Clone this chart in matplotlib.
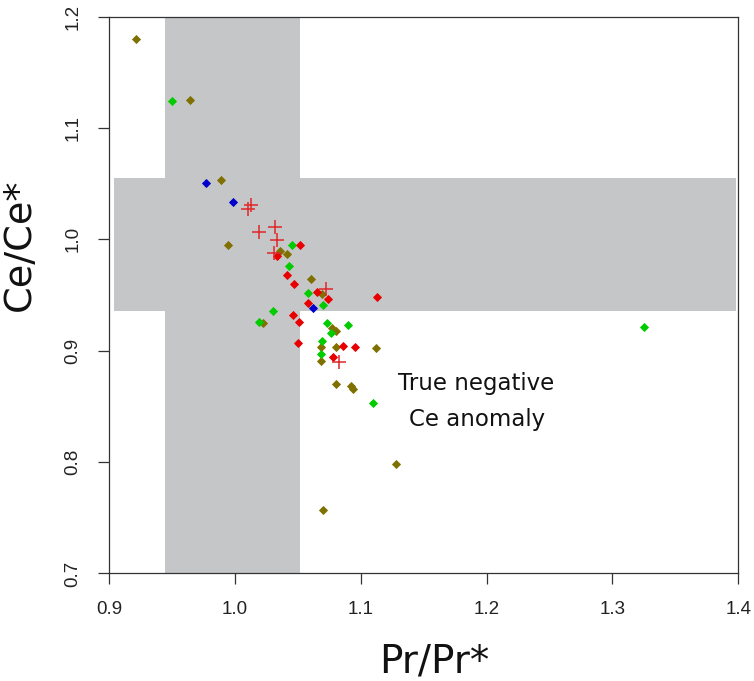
import matplotlib.pyplot as plt
from matplotlib.patches import Rectangle

# Data (Pr/Pr*, Ce/Ce*)
olive_x = [0.921, 0.964, 0.989, 0.994, 1.036, 1.041, 1.060, 1.069, 1.022, 1.077,
           1.080, 1.068, 1.080, 1.112, 1.068, 1.080, 1.092, 1.094, 1.128, 1.070]
olive_y = [1.180, 1.125, 1.053, 0.995, 0.990, 0.987, 0.964, 0.951, 0.925, 0.920,
           0.918, 0.903, 0.903, 0.902, 0.891, 0.870, 0.868, 0.866, 0.798, 0.757]

green_x = [0.950, 1.045, 1.043, 1.058, 1.070, 1.030, 1.019, 1.073, 1.090, 1.076,
           1.069, 1.068, 1.110, 1.325]
green_y = [1.124, 0.995, 0.976, 0.952, 0.941, 0.936, 0.926, 0.925, 0.923, 0.916,
           0.909, 0.897, 0.853, 0.921]

red_x = [1.052, 1.033, 1.041, 1.047, 1.065, 1.074, 1.058, 1.113, 1.046, 1.051,
         1.050, 1.086, 1.095, 1.078]
red_y = [0.995, 0.985, 0.968, 0.960, 0.953, 0.946, 0.943, 0.948, 0.932, 0.926,
         0.907, 0.904, 0.903, 0.894]

blue_x = [0.977, 0.998, 1.062]
blue_y = [1.051, 1.034, 0.938]

plus_x = [1.013, 1.010, 1.019, 1.032, 1.033, 1.031, 1.072, 1.083]
plus_y = [1.031, 1.027, 1.007, 1.011, 0.999, 0.988, 0.955, 0.890]

# shaded "no anomaly" bands
band_pr = (0.9445, 1.0515)
band_ce = (0.9355, 1.0555)

plt.rcParams['font.family'] = ['Liberation Sans', 'DejaVu Sans']

fig = plt.figure(figsize=(7.54, 6.81), dpi=100)
ax = fig.add_axes([0.145, 0.158, 0.834, 0.8175])
ax.set_xlim(0.9, 1.4)
ax.set_ylim(0.7, 1.2)

gray = "#c5c6c8"
ax.add_patch(Rectangle((band_pr[0], 0.7), band_pr[1] - band_pr[0], 0.5,
                       facecolor=gray, edgecolor="none", zorder=1))
ax.add_patch(Rectangle((0.904, band_ce[0]), 1.3985 - 0.904, band_ce[1] - band_ce[0],
                       facecolor=gray, edgecolor="none", zorder=1))

dkw = dict(linestyle="none", marker="D", markersize=4.4, markeredgewidth=0.6, zorder=3)
ax.plot(olive_x, olive_y, color="#7f7000", **dkw)
ax.plot(green_x, green_y, color="#00cc00", **dkw)
ax.plot(red_x, red_y, color="#e80000", **dkw)
ax.plot(blue_x, blue_y, color="#0000cc", **dkw)
ax.plot(plus_x, plus_y, linestyle="none", marker="+", markersize=10,
        markeredgewidth=1.1, color="#e02828", zorder=4)

ax.text(1.1917, 0.8646, "True negative", fontsize=16.5, family="DejaVu Sans",
        ha="center", va="baseline", color="#111111", zorder=5)
ax.text(1.1925, 0.8326, "Ce anomaly", fontsize=16.5, family="DejaVu Sans",
        ha="center", va="baseline", color="#111111", zorder=5)

for s in ax.spines.values():
    s.set_color("#333333")
    s.set_linewidth(0.9)

ax.set_xticks([0.9, 1.0, 1.1, 1.2, 1.3, 1.4])
ax.set_xticklabels(["0.9", "1.0", "1.1", "1.2", "1.3", "1.4"])
ax.set_yticks([0.7, 0.8, 0.9, 1.0, 1.1, 1.2])
ax.set_yticklabels(["0.7", "0.8", "0.9", "1.0", "1.1", "1.2"], rotation=90, va="center")
ax.tick_params(axis="both", direction="out", length=8, width=0.9, color="#333333",
               labelsize=13.5, labelcolor="#222222")
ax.tick_params(axis="x", pad=12)
ax.tick_params(axis="y", pad=12)

fig.text(434 / 754, 1 - 672 / 681, "Pr/Pr*", fontsize=28, family="DejaVu Sans",
         ha="center", va="baseline", color="#111111")
fig.text(20 / 754, 1 - 245 / 681, "Ce/Ce*", fontsize=27.5, family="DejaVu Sans",
         rotation=90, ha="center", va="center", color="#111111")

fig.savefig("out.png", dpi=100)
